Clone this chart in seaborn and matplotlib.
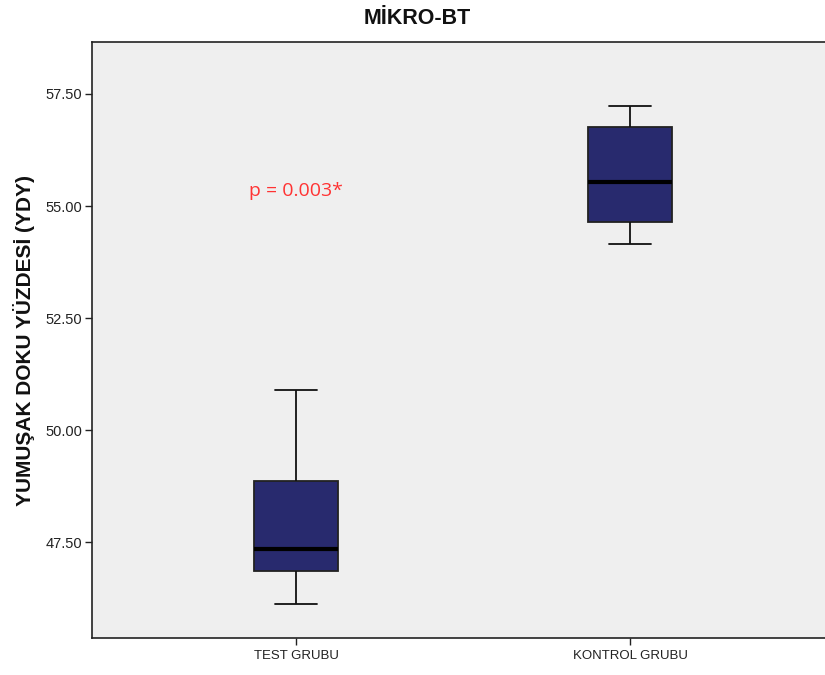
import matplotlib
matplotlib.use("Agg")
import matplotlib.pyplot as plt
import seaborn as sns
import pandas as pd

# Data (five-number summaries)
categories = ["TEST GRUBU", "KONTROL GRUBU"]
test_values = [46.12, 46.85, 47.34, 48.86, 50.89]
kontrol_values = [54.15, 54.64, 55.54, 56.76, 57.23]
y_ticks = [47.5, 50.0, 52.5, 55.0, 57.5]
title = "MİKRO-BT"
y_label = "YUMUŞAK DOKU YÜZDESİ (YDY)"
p_text = "p = 0.003*"

df = pd.DataFrame({
    "grup": [categories[0]] * len(test_values) + [categories[1]] * len(kontrol_values),
    "deger": test_values + kontrol_values,
})

sns.set_theme(style="white")
plt.rcParams["font.family"] = ["Liberation Sans", "DejaVu Sans"]

fig = plt.figure(figsize=(8.25, 6.75), dpi=100)
ax = fig.add_axes([92 / 825, 37 / 675, (825 - 92) / 825, (638 - 42) / 675])
ax.set_facecolor("#EFEFEF")
fig.patch.set_facecolor("white")

sns.boxplot(
    data=df, x="grup", y="deger", order=categories, ax=ax,
    color="#282A6E", saturation=1, width=0.25, linecolor="#111111",
    linewidth=1.3, whis=10, fliersize=0,
    medianprops={"color": "black", "linewidth": 3},
    boxprops={"edgecolor": "#222222"},
)

ax.set_xlim(-0.611, 1.584)
ax.set_ylim(45.36, 58.66)
ax.set_yticks(y_ticks)
ax.set_yticklabels([f"{v:.2f}" for v in y_ticks], fontsize=10.5, color="#222222")
ax.set_xticks([0, 1])
ax.set_xticklabels(categories, fontsize=9.5, color="#222222")
ax.tick_params(axis="both", direction="out", length=5, width=1, colors="#222222",
               left=True, bottom=True)
ax.tick_params(axis="y", pad=2)

for side in ["left", "top", "bottom"]:
    ax.spines[side].set_visible(True)
    ax.spines[side].set_color("#222222")
    ax.spines[side].set_linewidth(1.2)
ax.spines["right"].set_visible(False)

ax.set_xlabel("")
ax.set_ylabel("")
fig.text(24 / 825, 1 - 341 / 675, y_label, rotation=90, ha="center", va="center",
         fontsize=15, fontweight="bold", color="#111111")
fig.text(417 / 825, 1 - 18 / 675, title, ha="center", va="center",
         fontsize=15.5, fontweight="bold", color="#111111")

ax.text(0, 55.33, p_text, color="#FF3333", fontsize=14, ha="center", va="center",
        family=["Open Sans", "DejaVu Sans"])

fig.savefig("out.png", dpi=100)
